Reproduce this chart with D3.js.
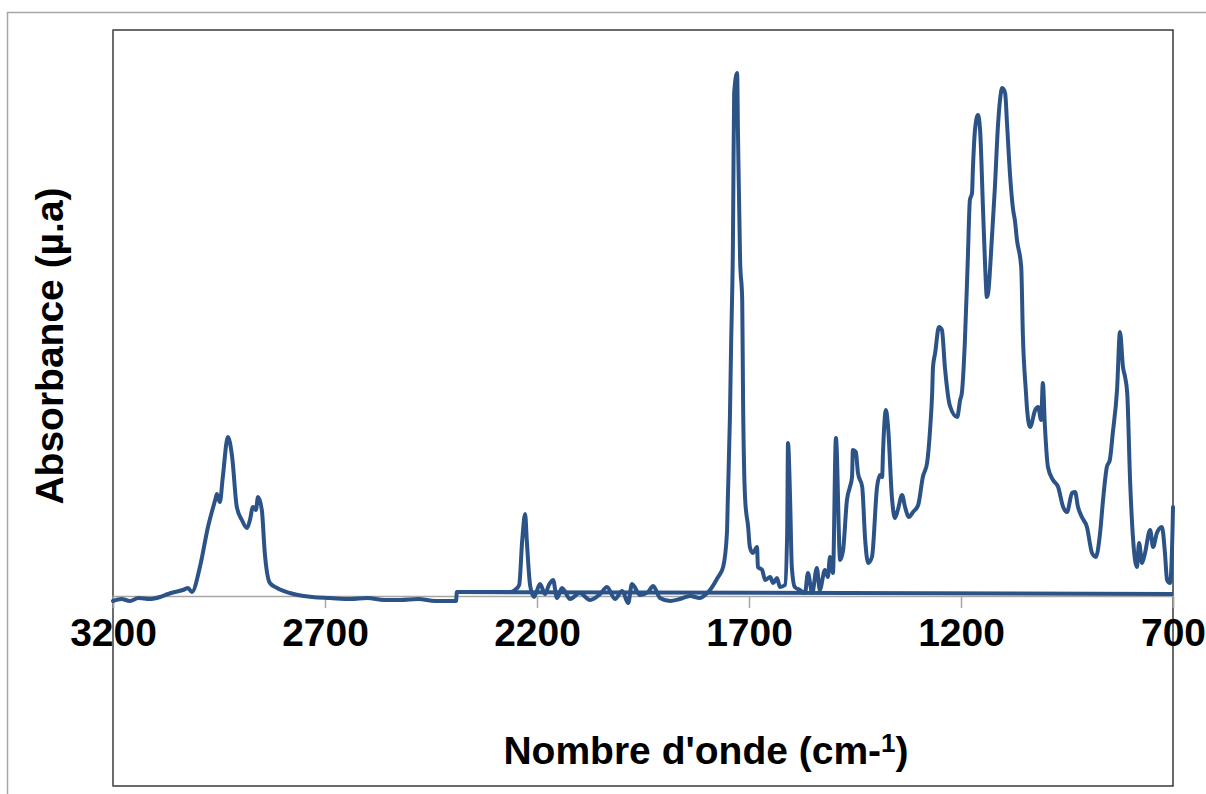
<!DOCTYPE html>
<html>
<head>
<meta charset="utf-8">
<script src="https://cdn.jsdelivr.net/npm/d3@7"></script>
<style>
  body { margin: 0; background: #fff; }
  svg { display: block; }
  text { font-family: "Liberation Sans", Arial, sans-serif; font-weight: bold; fill: #000; }
</style>
</head>
<body>
<div class="graph"></div>
<script>
// IR spectrum, wavenumber (cm-1) vs absorbance (arbitrary units)
var wavenumber = [
  3200, 3180, 3160, 3140, 3113, 3089, 3070, 3054, 3035, 3023, 3014, 2995, 2976, 2959, 2955, 2948,
  2941, 2929, 2919, 2908, 2896, 2884, 2877, 2870, 2863, 2858, 2849, 2842, 2830, 2813, 2783, 2764,
  2730, 2688, 2640, 2600, 2560, 2523, 2480, 2440, 2391, 2389, 2264, 2252, 2242, 2235, 2228, 2224,
  2216, 2207, 2193, 2181, 2172, 2162, 2153, 2141, 2122, 2099, 2075, 2051, 2035, 2016, 1999, 1985,
  1976, 1957, 1938, 1926, 1910, 1886, 1863, 1839, 1816, 1801, 1792, 1773, 1761, 1752, 1750, 1745,
  1742, 1740, 1738, 1737, 1735, 1728, 1726, 1721, 1716, 1714, 1709, 1702, 1698, 1691, 1681, 1679,
  1669, 1662, 1650, 1643, 1634, 1627, 1615, 1610, 1608, 1603, 1599, 1592, 1580, 1568, 1561, 1551,
  1540, 1533, 1521, 1514, 1509, 1502, 1495, 1485, 1478, 1469, 1462, 1457, 1455, 1448, 1443, 1433,
  1426, 1419, 1410, 1398, 1391, 1386, 1384, 1377, 1372, 1363, 1356, 1349, 1339, 1332, 1323, 1313,
  1301, 1290, 1280, 1273, 1268, 1266, 1261, 1252, 1245, 1238, 1226, 1209, 1202, 1198, 1191, 1184,
  1179, 1174, 1172, 1167, 1160, 1155, 1148, 1143, 1139, 1136, 1127, 1120, 1113, 1108, 1103, 1096,
  1091, 1084, 1077, 1073, 1068, 1058, 1054, 1047, 1044, 1037, 1025, 1018, 1011, 1007, 1002, 995,
  983, 971, 959, 950, 938, 931, 924, 915, 903, 891, 882, 872, 865, 856, 849, 842,
  832, 825, 818, 813, 808, 801, 794, 785, 780, 773, 766, 754, 747, 738, 726, 719,
  714, 707, 701, 700
];
var absorbance = [
  -0.010, -0.006, -0.010, -0.004, -0.006, -0.002, 0.004, 0.008, 0.012, 0.016, 0.008, 0.058, 0.138, 0.192, 0.204, 0.188,
  0.238, 0.318, 0.278, 0.178, 0.152, 0.136, 0.152, 0.178, 0.172, 0.198, 0.172, 0.086, 0.026, 0.016, 0.006, 0.002,
  -0.002, -0.004, -0.006, -0.004, -0.008, -0.008, -0.006, -0.010, -0.010, 0.008, 0.008, 0.012, 0.022, 0.110, 0.164, 0.110,
  0.020, -0.002, 0.024, 0.004, 0.022, 0.032, -0.004, 0.016, -0.006, 0.006, -0.008, 0.004, 0.018, -0.006, 0.010, -0.014,
  0.024, 0.002, 0.008, 0.020, -0.004, -0.010, -0.006, 0.000, -0.004, 0.004, 0.012, 0.038, 0.058, 0.126, 0.192, 0.358,
  0.512, 0.592, 0.698, 0.806, 1.006, 1.046, 0.926, 0.672, 0.592, 0.392, 0.192, 0.138, 0.098, 0.086, 0.098, 0.058,
  0.052, 0.032, 0.038, 0.026, 0.036, 0.018, 0.022, 0.126, 0.306, 0.192, 0.058, 0.018, 0.012, 0.006, 0.046, 0.006,
  0.056, 0.012, 0.052, 0.038, 0.078, 0.046, 0.316, 0.072, 0.092, 0.192, 0.218, 0.238, 0.292, 0.288, 0.246, 0.218,
  0.112, 0.066, 0.078, 0.218, 0.242, 0.238, 0.286, 0.372, 0.338, 0.198, 0.156, 0.172, 0.202, 0.178, 0.158, 0.168,
  0.182, 0.238, 0.266, 0.332, 0.406, 0.458, 0.486, 0.538, 0.532, 0.458, 0.380, 0.358, 0.392, 0.406, 0.506, 0.672,
  0.792, 0.806, 0.852, 0.932, 0.962, 0.932, 0.772, 0.658, 0.598, 0.606, 0.718, 0.818, 0.938, 0.992, 1.016, 1.006,
  0.938, 0.838, 0.772, 0.752, 0.712, 0.658, 0.520, 0.410, 0.372, 0.338, 0.372, 0.378, 0.352, 0.426, 0.338, 0.258,
  0.232, 0.218, 0.178, 0.168, 0.206, 0.208, 0.178, 0.158, 0.138, 0.086, 0.078, 0.126, 0.192, 0.258, 0.272, 0.326,
  0.412, 0.528, 0.458, 0.438, 0.406, 0.226, 0.112, 0.058, 0.106, 0.066, 0.086, 0.132, 0.098, 0.126, 0.138, 0.086,
  0.032, 0.026, 0.138, 0.178
];
// straight baseline segment drawn with the spectrum
var baseWavenumber = [2389, 700];
var baseAbsorbance = [0.008, 0.004];

var xTicks = [3200, 2700, 2200, 1700, 1200, 700];

var width = 1206, height = 794;
var plot = { left: 113, top: 30, right: 1173, bottom: 786 };

var svg = d3.select(".graph").append("svg")
  .attr("width", width)
  .attr("height", height);

// outer chart frame
svg.append("rect")
  .attr("x", 7.5).attr("y", 12.5)
  .attr("width", 1220).attr("height", 800)
  .attr("fill", "none")
  .attr("stroke", "#a6a6a6")
  .attr("stroke-width", 1.5);

var x = d3.scaleLinear().domain([3200, 700]).range([plot.left, plot.right]);
var y = d3.scaleLinear().domain([-0.38, 1.132]).range([plot.bottom, plot.top]);

// plot area border
svg.append("rect")
  .attr("x", plot.left).attr("y", plot.top)
  .attr("width", plot.right - plot.left).attr("height", plot.bottom - plot.top)
  .attr("fill", "none")
  .attr("stroke", "#1a1a1a")
  .attr("stroke-width", 1.3);

// y axis line (no ticks)
svg.append("line")
  .attr("x1", plot.left).attr("x2", plot.left)
  .attr("y1", plot.top).attr("y2", plot.bottom)
  .attr("stroke", "#6e6e6e").attr("stroke-width", 1.5);

// x axis sits at absorbance 0
var xAxis = d3.axisBottom(x).tickValues(xTicks).tickSize(12).tickPadding(10).tickFormat(d3.format("d"));
var gx = svg.append("g")
  .attr("transform", "translate(0," + y(0) + ")")
  .call(xAxis);
gx.select(".domain").attr("stroke", "#a6a6a6").attr("stroke-width", 1.5);
gx.selectAll(".tick line").attr("stroke", "#a6a6a6").attr("stroke-width", 1.5);
gx.selectAll(".tick text")
  .attr("font-size", 39)
  .attr("font-family", "Liberation Sans, Arial, sans-serif")
  .attr("font-weight", "bold")
  .attr("fill", "#000")
  .attr("dy", "0.72em");

var line = d3.line()
  .curve(d3.curveMonotoneX)
  .x(function (d) { return x(d[0]) })
  .y(function (d) { return y(d[1]) });

var spectrum = wavenumber.map(function (w, i) { return [w, absorbance[i]] });
var baseline = baseWavenumber.map(function (w, i) { return [w, baseAbsorbance[i]] });

svg.append("path")
  .datum(baseline)
  .attr("d", line)
  .attr("fill", "none")
  .attr("stroke", "#2c5388")
  .attr("stroke-width", 4);

svg.append("path")
  .datum(spectrum)
  .attr("d", line)
  .attr("fill", "none")
  .attr("stroke", "#2c5388")
  .attr("stroke-width", 4)
  .attr("stroke-linejoin", "round")
  .attr("stroke-linecap", "round");

// titles
svg.append("text")
  .attr("transform", "translate(63,346) rotate(-90)")
  .attr("text-anchor", "middle")
  .attr("font-size", 39)
  .text("Absorbance (µ.a)");

var xt = svg.append("text")
  .attr("x", 706).attr("y", 764)
  .attr("text-anchor", "middle")
  .attr("font-size", 39);
xt.append("tspan").text("Nombre d'onde (cm-");
xt.append("tspan").attr("font-size", 26).attr("dy", -12).text("1");
xt.append("tspan").attr("dy", 12).text(")");
</script>
</body>
</html>
